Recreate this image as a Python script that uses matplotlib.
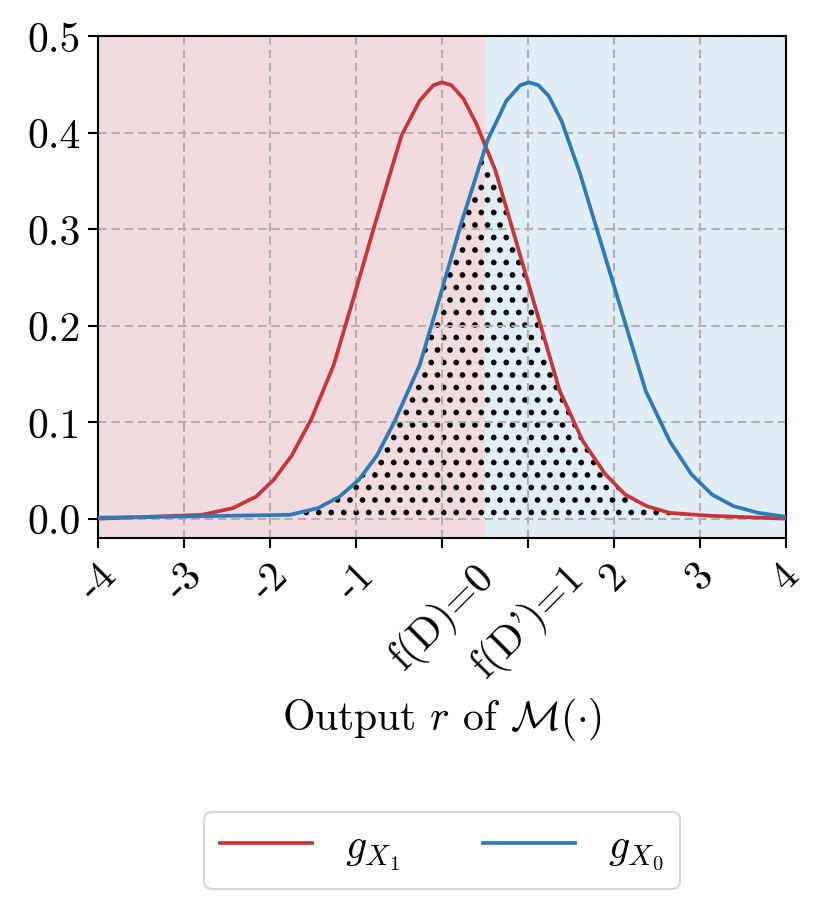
import numpy as np
import matplotlib
matplotlib.use("Agg")
import matplotlib.pyplot as plt

plt.rcParams["font.family"] = "serif"
plt.rcParams["font.serif"] = ["cmr10"]
plt.rcParams["mathtext.fontset"] = "cm"
plt.rcParams["axes.formatter.use_mathtext"] = True
plt.rcParams["hatch.linewidth"] = 1.5

# curve vertices
red_x = [-4.0, -2.79, -2.43, -2.16, -1.96, -1.75, -1.52, -1.26, -1.03, -0.78, -0.47,
         -0.26, -0.10, 0.0, 0.11, 0.25, 0.40, 0.62, 1.37, 1.64, 1.90, 2.13, 2.38,
         2.65, 3.12, 4.0]
red_y = [0.000, 0.004, 0.011, 0.023, 0.040, 0.065, 0.103, 0.159, 0.228, 0.305, 0.397,
         0.433, 0.449, 0.452, 0.449, 0.435, 0.409, 0.361, 0.132, 0.080, 0.046, 0.025, 0.013,
         0.006, 0.003, 0.000]

blue_x = [-4.0, -1.77, -1.44, -1.19, -0.97, -0.76, -0.55, -0.26, -0.03, 0.22, 0.53,
          0.75, 0.91, 1.01, 1.12, 1.24, 1.39, 1.60, 2.37, 2.65, 2.90, 3.14, 3.39,
          3.68, 4.0]
blue_y = [0.001, 0.004, 0.011, 0.023, 0.040, 0.065, 0.101, 0.159, 0.228, 0.305, 0.392,
          0.433, 0.449, 0.452, 0.449, 0.438, 0.412, 0.359, 0.132, 0.080, 0.046, 0.025, 0.013,
          0.006, 0.002]

tick_pos = [-4, -3, -2, -1, 0, 1, 2, 3, 4]
tick_labels = ["-4", "-3", "-2", "-1", "f(D)=0", "f(D')=1", "2", "3", "4"]
split = 0.5

red = "#c8363c"
blue = "#2e7bb8"

fig = plt.figure(figsize=(830 / 150, 909 / 150), dpi=150)
ax = fig.add_axes([98 / 830, 1 - 539 / 909, (786 - 98) / 830, (539 - 37) / 909])

ax.axvspan(-4, split, color="#f2dbdf", lw=0)
ax.axvspan(split, 4, color="#e1eef7", lw=0)

# overlap of the two densities
xx = np.linspace(-4, 4, 2001)
overlap = np.minimum(np.interp(xx, red_x, red_y), np.interp(xx, blue_x, blue_y))
ax.fill_between(xx, 0, overlap, facecolor="none", edgecolor="black", hatch="..", linewidth=0)

ax.plot(red_x, red_y, color=red, lw=1.8, label=r"$g_{X_1}$", zorder=3)
ax.plot(blue_x, blue_y, color=blue, lw=1.8, label=r"$g_{X_0}$", zorder=3)

ax.grid(True, ls=(0, (4, 2.4)), color="#b0b0b0", lw=1.0)
ax.set_xlim(-4, 4)
ax.set_ylim(-0.02, 0.5)
ax.set_xticks(tick_pos)
ax.set_xticklabels(tick_labels, rotation=45)
ax.set_yticks([0.0, 0.1, 0.2, 0.3, 0.4, 0.5])
ax.set_yticklabels(["0.0", "0.1", "0.2", "0.3", "0.4", "0.5"])
ax.tick_params(labelsize=20, length=5, width=1.0)
for s in ax.spines.values():
    s.set_linewidth(1.0)
ax.set_xlabel(r"Output $r$ of $\mathcal{M}(\cdot)$", fontsize=20)

ax.legend(loc="upper center", bbox_to_anchor=(0.5, -0.504), ncol=2, fontsize=20,
          handlelength=2.2, frameon=True, edgecolor="#cccccc")

fig.savefig("out.png", dpi=150)
